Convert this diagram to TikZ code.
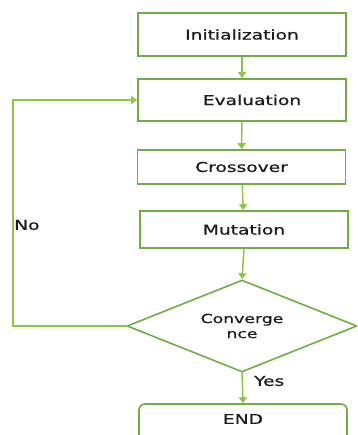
\documentclass[tikz,border=0pt]{standalone}
\usepackage{fontspec}
\setmainfont{DejaVu Sans}[FakeBold=0.7]
\usetikzlibrary{shapes.geometric}
\usetikzlibrary{arrows.meta}

\definecolor{boxgreen}{HTML}{70AD47}
\definecolor{flowgreen}{HTML}{8DC63F}
\definecolor{txtgray}{HTML}{1C1C1C}

% wide lettering used in all labels
\newcommand{\wtext}[1]{\scalebox{1.38}[1]{#1}}

\begin{document}
\begin{tikzpicture}[x=1pt, y=-1pt,
    block/.style={draw=boxgreen, line width=1.6pt, minimum width=208pt,
        inner sep=0pt, text=txtgray, font=\fontsize{13.5}{15}\selectfont},
    decision/.style={diamond, draw=boxgreen, line width=1.6pt, aspect=2.5,
        minimum width=230pt, minimum height=92pt, inner sep=0pt,
        text=txtgray, align=center, font=\fontsize{12.5}{14}\selectfont},
    flow/.style={draw=flowgreen, line width=1.5pt,
        -{Triangle[length=6pt, width=8pt]}},
    tag/.style={text=txtgray, inner sep=0pt, font=\fontsize{13.5}{15}\selectfont}]

    \useasboundingbox (0,0) rectangle (357,435);
    \clip (0,0) rectangle (357,435);

    \coordinate (I) at (242,34.5);
    \coordinate (E) at (242,100);
    \coordinate (X) at (241.5,167);
    \coordinate (M) at (244,229.5);
    \coordinate (C) at (242,326);
    \coordinate (F) at (243,425);
    \coordinate (W) at (13,0);

    % Steps
    \node[block, minimum height=43pt] (init) at (I) {\wtext{Initialization}};
    \node[block, minimum height=42pt] (eval) at (E) {\hspace*{20pt}\wtext{Evaluation}};
    \node[block, minimum height=34pt] (cross) at (X) {\wtext{Crossover}};
    \node[block, minimum height=37pt] (mut) at (M) {\wtext{Mutation}};

    % Convergence test
    \node[decision] (conv) at (C) {\wtext{Converge}\\[1pt]\wtext{nce}};

    % End
    \node[block, rounded corners=6pt, minimum height=42pt,
        text depth=12pt] (stop) at (F) {\wtext{END}};

    % Flow
    \draw[flow] (init) -- (eval);
    \draw[flow] (eval) -- (cross);
    \draw[flow] (cross) -- (mut);
    \draw[flow] (mut.south) -- (conv.north);
    \draw[flow] (conv.south) -- (stop.north);

    % Loop back
    \draw[flow] (conv.west) -- (conv.west -| W) |- (eval.west);

    % Labels
    \node[tag, anchor=west] (no) at (14,225) {\wtext{No}};
    \node[tag, anchor=west] (yes) at (254,381) {\wtext{Yes}};

\end{tikzpicture}
\end{document}
